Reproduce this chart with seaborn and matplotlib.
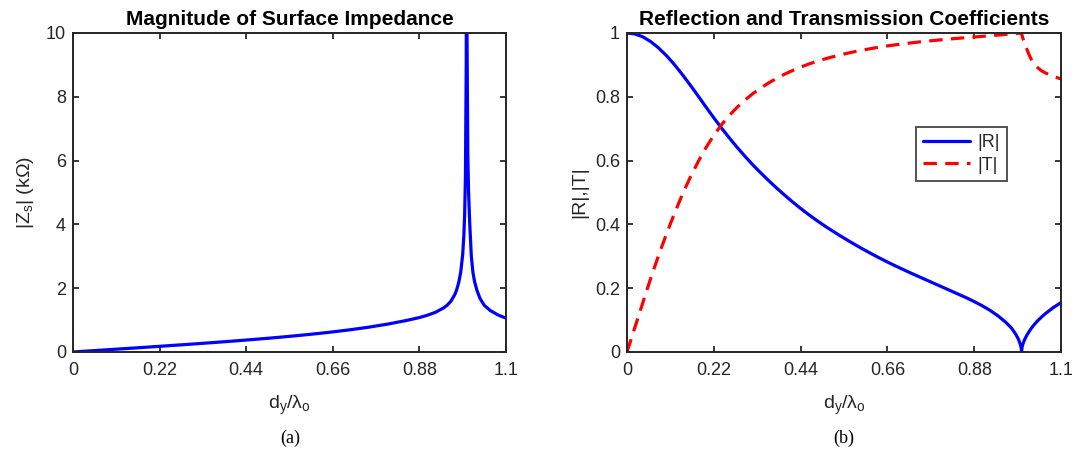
import numpy as np
import pandas as pd
import matplotlib
matplotlib.use("Agg")
import matplotlib.pyplot as plt
import seaborn as sns

# Surface impedance magnitude |Z_s| (kOhm) versus normalized period d_y / lambda_o
zs_ratio = [0.0, 0.05, 0.1, 0.15, 0.2, 0.25, 0.3, 0.35, 0.4, 0.45, 0.5, 0.55, 0.6,
            0.65, 0.7, 0.75, 0.8, 0.85, 0.88, 0.9, 0.92, 0.94, 0.95, 0.96, 0.97,
            0.975, 0.98, 0.985, 0.99, 0.993, 0.995, 0.997, 0.999, 1.0, 1.001,
            1.003, 1.005, 1.008, 1.012, 1.016, 1.02, 1.026, 1.034, 1.045, 1.06,
            1.08, 1.1]
zs_mag = [0.0, 0.04, 0.08, 0.12, 0.161, 0.203, 0.246, 0.29, 0.336, 0.384, 0.435, 0.49, 0.55,
          0.616, 0.69, 0.775, 0.875, 0.995, 1.08, 1.15, 1.24, 1.37, 1.46, 1.59, 1.8,
          1.96, 2.18, 2.5, 3.05, 3.65, 4.3, 5.5, 9.0, 15.0, 10.0,
          6.2, 5.0, 4.0, 3.0, 2.5, 2.22, 1.94, 1.68, 1.46, 1.3,
          1.16, 1.06]

# Reflection |R| and transmission |T| coefficient magnitudes
rt_ratio = [0.0, 0.02, 0.04, 0.06, 0.08, 0.1, 0.12, 0.14, 0.16, 0.18, 0.2, 0.22,
            0.24, 0.26, 0.28, 0.3, 0.32, 0.34, 0.36, 0.38, 0.4, 0.42, 0.44, 0.46,
            0.48, 0.5, 0.52, 0.54, 0.56, 0.58, 0.6, 0.62, 0.64, 0.66, 0.68, 0.7,
            0.72, 0.74, 0.76, 0.78, 0.8, 0.82, 0.84, 0.86, 0.88, 0.9, 0.92, 0.94,
            0.96, 0.975, 0.985, 0.992, 0.997, 0.999, 1.0, 1.001, 1.003, 1.006,
            1.01, 1.015, 1.02, 1.025, 1.03, 1.04, 1.05, 1.06, 1.08, 1.1]
r_mag = [1.0, 0.997, 0.988, 0.973, 0.953, 0.929, 0.901, 0.87, 0.837, 0.803, 0.768, 0.734,
         0.701, 0.67, 0.64, 0.612, 0.585, 0.56, 0.536, 0.513, 0.491, 0.47, 0.45, 0.431,
         0.413, 0.396, 0.38, 0.3645, 0.3495, 0.335, 0.321, 0.3075, 0.2945, 0.282, 0.27, 0.2585,
         0.247, 0.236, 0.225, 0.214, 0.203, 0.192, 0.181, 0.17, 0.158, 0.145, 0.1305, 0.1135,
         0.093, 0.074, 0.056, 0.04, 0.023, 0.012, 0.0, 0.014, 0.024, 0.034,
         0.045, 0.056, 0.066, 0.075, 0.083, 0.097, 0.109, 0.12, 0.139, 0.155]
t_mag = [0.0, 0.0774, 0.1545, 0.2308, 0.303, 0.3701, 0.4338, 0.4931, 0.5472, 0.596, 0.6405, 0.6792,
         0.7132, 0.7424, 0.7684, 0.7909, 0.811, 0.8285, 0.8442, 0.8584, 0.8712, 0.8827, 0.893, 0.9024,
         0.9107, 0.9182, 0.925, 0.9312, 0.9369, 0.9422, 0.9471, 0.9515, 0.9557, 0.9594, 0.9629, 0.966,
         0.969, 0.9718, 0.9744, 0.9768, 0.9792, 0.9814, 0.9835, 0.9854, 0.9874, 0.9894, 0.9914, 0.9935,
         0.9957, 0.9973, 0.9984, 0.9992, 0.9997, 0.9999, 1.0, 0.993, 0.984, 0.974,
         0.96, 0.944, 0.929, 0.916, 0.906, 0.892, 0.882, 0.875, 0.864, 0.856]

x_ticks = [0, 0.22, 0.44, 0.66, 0.88, 1.1]
x_tick_labels = ["0", "0.22", "0.44", "0.66", "0.88", "1.1"]
zs_ticks = [0, 2, 4, 6, 8, 10]
rt_ticks = [0, 0.2, 0.4, 0.6, 0.8, 1.0]
rt_tick_labels = ["0", "0.2", "0.4", "0.6", "0.8", "1"]

sns.set_theme(style="white")
plt.rcParams["font.family"] = ["Liberation Sans", "DejaVu Sans"]
plt.rcParams["mathtext.default"] = "regular"
plt.rcParams["mathtext.fontset"] = "custom"
plt.rcParams["mathtext.rm"] = "Liberation Sans"
plt.rcParams["mathtext.it"] = "Liberation Sans"

AX_COLOR = "#262626"
TICK_FS = 13
LABEL_FS = 14

fig = plt.figure(figsize=(10.77, 4.55), dpi=100)
ax1 = fig.add_axes([0.0678, 0.2264, 0.4020, 0.7011])
ax2 = fig.add_axes([0.5822, 0.2264, 0.4030, 0.7011])

df_z = pd.DataFrame({"ratio": zs_ratio, "zs": zs_mag})
df_rt = pd.DataFrame({"ratio": rt_ratio, "R": r_mag, "T": t_mag})

sns.lineplot(data=df_z, x="ratio", y="zs", ax=ax1, color=(0, 0, 1),
             linewidth=2.3, estimator=None, sort=False)
sns.lineplot(data=df_rt, x="ratio", y="R", ax=ax2, color=(0, 0, 1),
             linewidth=2.3, estimator=None, sort=False, label="|R|")
sns.lineplot(data=df_rt, x="ratio", y="T", ax=ax2, color=(1, 0, 0),
             linewidth=2.3, estimator=None, sort=False, label="|T|")
ax2.lines[-1].set_dashes((4.2, 2.6))

def style_axes(ax, yticks, ylabels, ylim):
    ax.set_xlim(0, 1.1)
    ax.set_ylim(*ylim)
    ax.set_xticks(x_ticks)
    ax.set_xticklabels(x_tick_labels)
    ax.set_yticks(yticks)
    ax.set_yticklabels(ylabels)
    for sp in ax.spines.values():
        sp.set_visible(True)
        sp.set_color(AX_COLOR)
        sp.set_linewidth(1.4)
    ax.tick_params(axis="both", which="both", direction="in", length=4,
                   width=1.3, color=AX_COLOR, labelcolor=AX_COLOR,
                   labelsize=TICK_FS, top=True, right=True, bottom=True, left=True)
    ax.tick_params(axis="x", pad=7)
    ax.tick_params(axis="y", pad=5)
    ax.set_xlabel("d$_y$/λ$_o$", fontsize=LABEL_FS, color=AX_COLOR, labelpad=11)
    ax.grid(False)
    ax.set_facecolor("white")

style_axes(ax1, zs_ticks, [str(v) for v in zs_ticks], (0, 10))
style_axes(ax2, rt_ticks, rt_tick_labels, (0, 1))

ax1.set_ylabel("|Z$_s$| (kΩ)", fontsize=LABEL_FS, color=AX_COLOR, labelpad=7)
ax2.set_ylabel("|R|,|T|", fontsize=LABEL_FS, color=AX_COLOR, labelpad=5)

ax1.set_title("Magnitude of Surface Impedance", fontsize=15,
              fontweight="bold", color="black", pad=6)
ax2.set_title("Reflection and Transmission Coefficients", fontsize=15,
              fontweight="bold", color="black", pad=6)

leg = ax2.legend(loc="upper left", bbox_to_anchor=(0.666, 0.705), fontsize=13,
                 frameon=True, fancybox=False, handlelength=2.6,
                 borderpad=0.4, labelspacing=0.3, handletextpad=0.4,
                 borderaxespad=0)
leg.get_frame().set_edgecolor(AX_COLOR)
leg.get_frame().set_linewidth(1.4)
for t in leg.get_texts():
    t.set_color(AX_COLOR)

fig.text(0.2693, 0.036, "(a)", fontsize=13, family="Liberation Serif",
         ha="center", va="center", color="black")
fig.text(0.7837, 0.036, "(b)", fontsize=13, family="Liberation Serif",
         ha="center", va="center", color="black")

fig.savefig("out.png", dpi=100, facecolor="white")
